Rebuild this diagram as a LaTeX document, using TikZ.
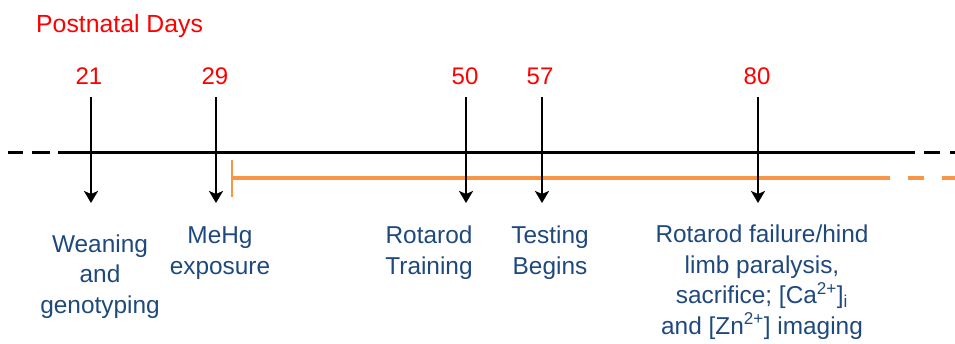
\documentclass[tikz,border=0pt]{standalone}
\usepackage{fontspec}
\setmainfont{Liberation Sans}
\usetikzlibrary{arrows.meta}
\definecolor{dayred}{RGB}{255,0,0}
\definecolor{eventblue}{RGB}{31,73,125}
\definecolor{exporange}{RGB}{247,150,70}
\tikzset{
  daynum/.style={text=dayred, font=\fontsize{24}{29}\selectfont, anchor=base, inner sep=0pt},
  % multi-line labels are placed by the baseline of their last line
  eventtxt/.style={text=eventblue, font=\fontsize{24.4}{30.5}\selectfont, align=center, anchor=base, inner sep=0pt},
  dayarrow/.style={line width=2.6pt, -{Stealth[length=12pt,width=14pt,inset=3pt]}},
  timeline/.style={line width=3pt},
  exposure/.style={exporange, line width=3.5pt},
}
\begin{document}
\begin{tikzpicture}[x=1pt,y=-1pt]
\useasboundingbox (0,0) rectangle (955,343);

% heading
\node[daynum, anchor=base west, font=\fontsize{24.8}{29}\selectfont] (title) at (36,32) {Postnatal Days};

% day numbers
\node[daynum] (d21) at (89,84) {21};
\node[daynum] (d29) at (215,84) {29};
\node[daynum] (d50) at (465,84) {50};
\node[daynum] (d57) at (540,84) {57};
\node[daynum] (d80) at (757,84) {80};

% main time axis, dashed at both ends
\coordinate (axL) at (58,152);
\coordinate (axR) at (915,152);
\draw[timeline] (axL) -- (axR);
\draw[timeline] (8,152) -- (23,152) (32,152) -- (50,152);
\draw[timeline] (924,152) -- (940,152) (950,152) -- (955,152);

% MeHg exposure period
\coordinate (exS) at (232,178);
\coordinate (exE) at (890,178);
\draw[exposure] (exS) -- (exE);
\draw[exposure] (908,178) -- (924,178) (942,178) -- (955,178);
\draw[exporange, line width=2pt] (232,160) -- (232,197);

% event arrows
\foreach \n/\x in {21/91, 29/216, 50/466, 57/542, 80/758} {
  \coordinate (a\n top) at (\x,97);
  \coordinate (a\n tip) at (\x,203);
  \draw[dayarrow] (a\n top) -- (a\n tip);
}

% event labels
\node[eventtxt] (ev21) at (100,313) {Weaning\\and\\genotyping};
\node[eventtxt] (ev29) at (220,274) {MeHg\\exposure};
\node[eventtxt] (ev50) at (429,274) {Rotarod\\Training};
\node[eventtxt] (ev57) at (550,274) {Testing\\Begins};
\node[eventtxt] (ev80) at (762,334) {Rotarod failure/hind\\limb paralysis,\\sacrifice; [Ca\textsuperscript{2+}]\textsubscript{i}\\and [Zn\textsuperscript{2+}] imaging};
\end{tikzpicture}
\end{document}
